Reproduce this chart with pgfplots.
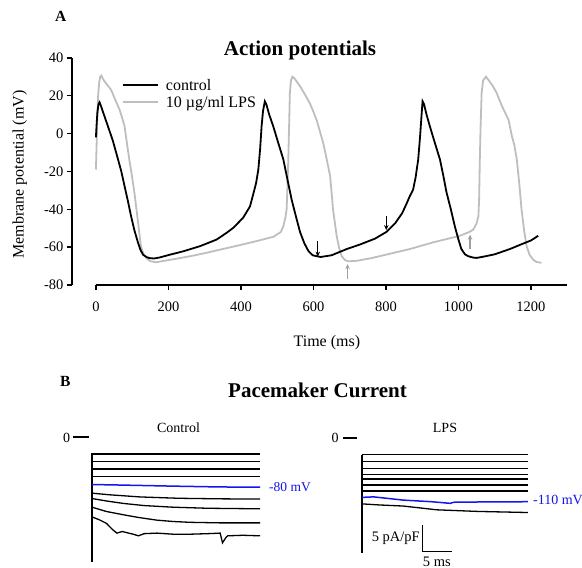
\documentclass[border=0pt]{standalone}
\usepackage{fontspec}
\setmainfont{Liberation Serif}
\usepackage{pgfplots}
\pgfplotsset{compat=1.18}
\usetikzlibrary{arrows.meta}
\definecolor{lpsgray}{RGB}{190,190,190}
\definecolor{arrgray}{RGB}{160,160,160}
\definecolor{trblue}{RGB}{20,20,235}
\newcommand\fs[1]{\fontsize{#1bp}{#1bp}\selectfont}
\begin{document}
\begin{tikzpicture}
\path[use as bounding box] (0,0) rectangle (582bp,568bp);
% ---------------- Panel A ----------------
\begin{axis}[
  at={(72bp,283bp)}, anchor=south west, scale only axis,
  width=495.2bp, height=227.2bp,
  xmin=-66, xmax=1300, ymin=-80, ymax=40,
  axis y line*=left, axis x line*=bottom,
  x axis line style={draw=none},
  y axis line style={line width=1.5bp},
  tick align=outside, major tick length=5bp,
  major tick style={black, line width=1.5bp},
  xtick={0,200,...,1200}, xticklabels={0,200,400,600,800,1000,1200},
  ytick={-80,-60,...,40}, yticklabels={-80,-60,-40,-20,0,20,40},
  ticklabel style={font=\fs{14.5}},
  xticklabel style={yshift=-8.5bp},
  xlabel={Time (ms)}, ylabel={Membrane potential (mV)},
  xlabel style={at={(axis cs:637,-110.4)}, anchor=center, font=\fs{16}},
  ylabel style={at={(axis cs:-210,-21.7)}, anchor=center, font=\fs{16}},
  clip=false,
  legend style={draw=none, fill=none, font=\fs{16}, at={(axis cs:70.3,28.8)}, anchor=north west,
    inner sep=0pt, row sep=0pt, column sep=6bp,
    nodes={inner sep=1.5bp, text height=10bp, text depth=3.5bp}, cells={anchor=west}},
  legend image code/.code={\draw[#1] (0bp,2.3bp) -- (35bp,2.3bp);},
]
\draw[line width=1.5bp] (axis cs:0,-80) -- (axis cs:1300,-80);
\addplot[lpsgray, line width=1.8bp, forget plot] coordinates {
(0,-19) (2,-5) (4,10) (6,20) (9,27) (12,30) (15,30.6) (22,28) (32,25.5) (42,23) (54,17.5) (65,12.7) (72,8.5) (79,3.9) (85,-4.5) (92,-13.7) (99,-22) (106,-31) (115,-45) (124,-59.5) (131,-63.5) (138,-65.5) (145,-66.8) (152,-67.5) (165,-68) (180,-67.5) (220,-66.2) (260,-64.8) (300,-63.2) (350,-61) (400,-58.8) (450,-56.5) (490,-54.5) (510,-52) (517,-49) (523,-44) (526,-40) (528,-30) (530.6,-13.7) (533,5) (535,21.6) (538,28) (542,30) (548,29) (563,25) (577,20.5) (590,16) (600,11.5) (609,7) (618,1) (627,-5) (636,-13) (646,-22.5) (650,-31) (654,-40) (659,-47) (664,-54) (671,-60.5) (678,-64.8) (687,-66.8) (696,-67.5) (720,-67.2) (760,-65.8) (800,-64) (866,-61) (930,-57.5) (1004,-54) (1030,-52) (1041,-50.7) (1050,-47.5) (1055,-43.7) (1057,-35) (1059,-13.7) (1061,3) (1064,21.6) (1068,28) (1076,30) (1082,28.5) (1095,25) (1105,21.6) (1120,14.5) (1130,10.5) (1138,7.4) (1147,-1) (1154,-6) (1161,-13.7) (1168,-27) (1174,-40) (1181,-51) (1188,-59.5) (1196,-64) (1206,-66.6) (1215,-67.8) (1229,-68.3)};
\addplot[black, line width=1.8bp] coordinates {
(0,-2) (2,5) (4,11) (7,15.5) (10,16.5) (14,14.5) (22,10) (33,3.9) (47,-4) (61,-13.7) (70,-20) (79,-27.8) (88,-35.5) (97,-43.7) (106,-51) (116,-57.6) (123,-61.5) (130,-64) (140,-65.3) (148,-65.8) (160,-66) (175,-65.5) (204,-64) (241,-62.2) (287,-59.5) (333,-56) (360,-52.5) (379,-49.8) (406,-44.5) (425,-38.5) (434,-32) (442,-26) (448,-19) (453,-8) (457,3.9) (461,12) (466,17) (470,15.5) (478,10) (489,3.9) (503,-5) (517,-13.7) (528,-24) (540,-35) (552,-44) (563,-52) (575,-58) (586,-62) (598,-64.3) (609,-64.8) (620,-65.2) (650,-64.3) (692,-61) (730,-58.5) (770,-55.5) (801,-52) (825,-47.5) (845,-42) (857,-37) (866,-33) (875,-29.6) (882,-23) (889,-13.7) (894,-2) (898,9) (901,17) (905,15.5) (912,10) (921,3.9) (935,-5) (949,-13.7) (958,-22) (967,-31) (979,-40) (990,-49) (1000,-56) (1008,-61) (1018,-63.8) (1027,-64.8) (1040,-65.5) (1050,-65.7) (1070,-65) (1100,-63.8) (1142,-61) (1180,-58) (1200,-56.5) (1220,-54)};
\addlegendentry{control}
\addlegendimage{lpsgray, line width=1.8bp}
\addlegendentry{10 µg/ml LPS}
\draw[black, line width=1.3bp, -{Stealth[length=5bp,width=4.5bp]}] (axis cs:612,-57) -- (axis cs:612,-65);
\draw[black, line width=1.3bp, -{Stealth[length=5bp,width=4.5bp]}] (axis cs:801,-43.3) -- (axis cs:801,-51);
\draw[arrgray, line width=1.3bp, -{Stealth[length=5bp,width=4.5bp]}] (axis cs:694,-77) -- (axis cs:694,-69);
\draw[arrgray, line width=1.3bp, -{Stealth[length=5bp,width=4.5bp]}] (axis cs:1032,-61) -- (axis cs:1032,-53.4);
\end{axis}
\node[anchor=base west, font=\fs{15.5}\bfseries, inner sep=0pt] at (55bp,546.3bp) {A};
\node[anchor=base, font=\fs{21}\bfseries, inner sep=0pt] at (300bp,512bp) {Action potentials};
% ---------------- Panel B ----------------
\node[anchor=base west, font=\fs{15.5}\bfseries, inner sep=0pt] at (60bp,181bp) {B};
\node[anchor=base, font=\fs{21}\bfseries, inner sep=0pt] at (317.5bp,170.7bp) {Pacemaker Current};
\node[anchor=base, font=\fs{14}, inner sep=0pt] at (178.5bp,135bp) {Control};
\node[anchor=base, font=\fs{14}, inner sep=0pt] at (445bp,135.3bp) {LPS};
\node[anchor=center, font=\fs{14}, inner sep=0pt] at (66.5bp,130.5bp) {0};
\draw[line width=1.5bp] (73bp,131bp) -- (89bp,131bp);
\node[anchor=center, font=\fs{14}, inner sep=0pt] at (335bp,130bp) {0};
\draw[line width=1.5bp] (343bp,130bp) -- (357bp,130bp);
\node[anchor=west, font=\fs{13.5}, text=trblue, inner sep=0pt] at (269bp,81bp) {-80 mV};
\node[anchor=west, font=\fs{14}, text=trblue, inner sep=0pt] at (533bp,68bp) {-110 mV};
\begin{axis}[at={(92bp,1.4bp)}, anchor=south west, x=5.8bp, y=5.4bp,
  xmin=0, xmax=29, ymin=-24, ymax=0, hide axis, clip=false]
\addplot[black, line width=1.3bp] coordinates {(0,-3.0) (0,-23.1)};
\addplot[black, line width=1.3bp] coordinates {(0,-3.15) (29,-3.15)};
\addplot[black, line width=1.3bp] coordinates {(0,-4.57) (29,-4.57)};
\addplot[black, line width=1.3bp] coordinates {(0,-5.93) (29,-5.93)};
\addplot[black, line width=1.3bp] coordinates {(0,-7.35) (29,-7.35)};
\addplot[trblue, line width=1.5bp] coordinates {(0,-8.8) (5,-8.9) (14,-9.1) (22,-9.25) (29,-9.3)};
\addplot[black, line width=1.3bp] coordinates {(0,-10.4) (3,-10.7) (8.3,-11.1) (15,-11.35) (22,-11.45) (29,-11.5)};
\addplot[black, line width=1.3bp] coordinates {(0,-11.4) (2.5,-11.85) (5.4,-12.3) (9,-12.7) (14,-13.0) (20,-13.2) (29,-13.3)};
\addplot[black, line width=1.3bp] coordinates {(0,-13.0) (2.5,-13.8) (5.4,-14.4) (8,-14.9) (11.2,-15.4) (14,-15.65) (16.9,-15.8) (22,-15.9) (29,-15.9)};
\addplot[black, line width=1.3bp] coordinates {(0,-14.8) (1.2,-15.3) (2.5,-16.0) (3.6,-17.2) (4.3,-17.8) (5.2,-17.5) (7.1,-18.0) (8,-18.3) (9,-17.9) (11.2,-17.8) (14,-18.0) (16.9,-18.0) (20,-17.9) (22.1,-17.8) (22.5,-19.6) (23.1,-18.6) (23.4,-18.3) (26,-18.2) (29,-18.3)};
\end{axis}
\begin{axis}[at={(362bp,0.4bp)}, anchor=south west, x=5.8bp, y=5.4bp,
  xmin=0, xmax=28.6, ymin=-24, ymax=0, hide axis, clip=false]
\addplot[black, line width=1.3bp] coordinates {(0,-3.1) (0,-21.3)};
\addplot[black, line width=1.3bp] coordinates {(0,-3.1) (28.6,-3.1)};
\addplot[black, line width=1.3bp] coordinates {(0,-4.4) (28.6,-4.4)};
\addplot[black, line width=1.3bp] coordinates {(0,-5.7) (28.6,-5.7)};
\addplot[black, line width=1.3bp] coordinates {(0,-6.7) (28.6,-6.7)};
\addplot[black, line width=1.3bp] coordinates {(0,-7.6) (28.6,-7.6)};
\addplot[black, line width=1.3bp] coordinates {(0,-8.7) (28.6,-8.7)};
\addplot[black, line width=1.3bp] coordinates {(0,-9.8) (28.6,-9.8)};
\addplot[trblue, line width=1.5bp] coordinates {(0,-11.0) (2,-10.9) (7.1,-11.5) (12,-11.8) (15.2,-12.1) (15.8,-11.9) (20,-11.85) (28.6,-11.8)};
\addplot[black, line width=1.3bp] coordinates {(0,-12.2) (3,-12.4) (7.1,-12.6) (10,-12.95) (12.9,-13.3) (20,-13.6) (28.6,-13.8)};
\draw[black, line width=1bp] (axis cs:10.5,-16.1) -- (axis cs:10.5,-21.1) -- (axis cs:15.5,-21.1);
\node[anchor=east, font=\fs{14.5}, inner sep=0pt] at (axis cs:10.0,-18.6) {5 pA/pF};
\node[anchor=center, font=\fs{14.5}, inner sep=0pt] at (axis cs:12.9,-22.9) {5 ms};
\end{axis}
\end{tikzpicture}
\end{document}
